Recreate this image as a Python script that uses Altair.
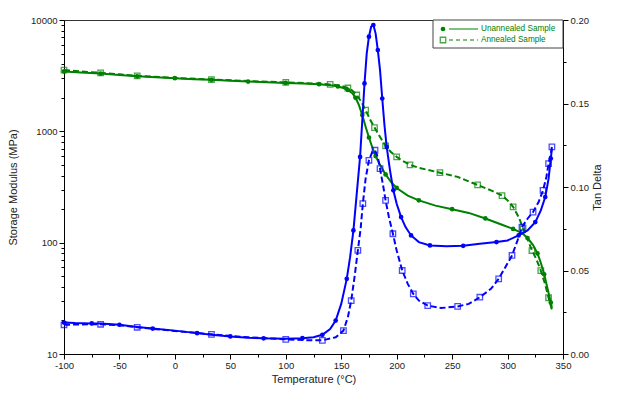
import altair as alt
import pandas as pd

# ---------------- data ----------------
# Storage modulus (MPa), unannealed sample
E_un_T = [-100, -85, -67, -50, -34, -17, 0, 17, 33, 50, 66, 83, 100, 115, 130, 140, 147, 152,
          156, 160, 163, 166, 169, 172, 175, 178, 181, 185, 190, 195, 200, 210, 220, 235, 250,
          265, 280, 295, 305, 313, 318, 323, 327, 330, 333, 336, 339, 340]
E_un = [3450, 3380, 3300, 3200, 3120, 3060, 3000, 2940, 2900, 2850, 2800, 2760, 2720, 2690, 2650,
        2600, 2530, 2450, 2350, 2200, 2000, 1720, 1400, 1100, 880, 720, 600, 500, 410, 350, 310,
        265, 240, 215, 200, 185, 165, 145, 133, 122, 110, 95, 80, 66, 52, 39, 29, 26]

# Storage modulus (MPa), annealed sample
E_an_T = [-100, -85, -67, -50, -34, 0, 33, 66, 100, 130, 140, 150, 156, 160, 164, 168, 172, 176,
          180, 185, 190, 195, 200, 205, 212, 220, 239, 255, 273, 285, 295, 300, 305, 310, 314,
          318, 322, 326, 330, 334, 337, 340]
E_an = [3550, 3450, 3350, 3250, 3150, 3020, 2920, 2830, 2750, 2680, 2640, 2560, 2450, 2320, 2120,
        1850, 1550, 1280, 1080, 890, 740, 650, 590, 545, 500, 470, 425, 390, 330, 295, 265, 240,
        210, 170, 135, 108, 85, 71, 56, 42, 32, 25]

# Tan delta, unannealed sample
D_un_T = [-100, -90, -75, -67, -50, -34, -20, 0, 20, 33, 50, 66, 80, 100, 115, 125, 133, 140,
          145, 150, 155, 158, 161, 164, 167, 169, 171, 173, 175, 177, 179, 181, 183, 185, 187,
          189, 191, 194, 197, 200, 204, 208, 213, 220, 230, 245, 260, 275, 290, 300, 310, 318,
          325, 330, 334, 337, 339, 340]
D_un = [0.0188, 0.0185, 0.0183, 0.0183, 0.0175, 0.0162, 0.0152, 0.0140, 0.0125, 0.0115, 0.0105,
        0.0098, 0.0094, 0.0092, 0.0095, 0.0100, 0.0115, 0.0150, 0.020, 0.030, 0.045, 0.058,
        0.074, 0.096, 0.118, 0.140, 0.162, 0.180, 0.190, 0.196, 0.197, 0.192, 0.182, 0.170,
        0.153, 0.137, 0.124, 0.110, 0.098, 0.090, 0.082, 0.076, 0.071, 0.067, 0.065, 0.0645,
        0.0648, 0.066, 0.067, 0.068, 0.071, 0.074, 0.079, 0.086, 0.094, 0.105, 0.117, 0.123]

# Tan delta, annealed sample
D_an_T = [-100, -75, -67, -50, -34, 0, 33, 66, 100, 120, 133, 145, 152, 156, 159, 162, 165,
          167.5, 169.5, 172, 175, 178, 180.5, 183, 185, 188, 190, 193, 196.6, 200, 205, 210, 215,
          220, 228, 240, 255, 265, 275, 285, 292, 298, 304, 309, 313, 318, 323, 328, 332, 335,
          337, 339, 340]
D_an = [0.0175, 0.0178, 0.0178, 0.0172, 0.0160, 0.0138, 0.0118, 0.0100, 0.0088, 0.0082, 0.0082,
        0.0100, 0.0140, 0.022, 0.032, 0.046, 0.062, 0.075, 0.090, 0.105, 0.116, 0.121, 0.122,
        0.118, 0.111, 0.100, 0.092, 0.082, 0.072, 0.062, 0.050, 0.042, 0.036, 0.032, 0.029,
        0.0275, 0.0285, 0.030, 0.034, 0.039, 0.045, 0.052, 0.059, 0.068, 0.076, 0.081, 0.085,
        0.091, 0.098, 0.106, 0.114, 0.120, 0.124]

LEGEND_LABELS = ["Unannealed Sample", "Annealed Sample"]

X_TICKS = list(range(-100, 351, 25))
E_TICKS = [m * 10 ** p for p in range(1, 4) for m in range(1, 10)] + [10000]
D_TICKS = [0, 0.025, 0.05, 0.075, 0.1, 0.125, 0.15, 0.175, 0.2]

# ---------------- styling ----------------
GREEN = "#008000"
BLUE = "#0000ff"
FONT = "Liberation Sans"
DASH = [6, 3]

df_E_un = pd.DataFrame({"T": E_un_T, "v": E_un})
df_E_an = pd.DataFrame({"T": E_an_T, "v": E_an})
df_D_un = pd.DataFrame({"T": D_un_T, "v": D_un})
df_D_an = pd.DataFrame({"T": D_an_T, "v": D_an})

xscale = alt.Scale(domain=[-100, 350], nice=False, zero=False)
xaxis = alt.Axis(
    values=X_TICKS,
    labelExpr="datum.value % 50 == 0 ? '' + datum.value : ''",
    tickSize={"condition": {"test": "datum.value % 50 == 0", "value": 5}, "value": 3},
    title="Temperature (°C)", grid=False, labelFlush=False, labelOverlap=False,
    labelPadding=1, titlePadding=4,
)
x = alt.X("T:Q", scale=xscale, axis=xaxis)

escale = alt.Scale(type="log", domain=[10, 10000], nice=False)
eaxis = alt.Axis(
    orient="left", values=E_TICKS,
    labelExpr="indexof([10,100,1000,10000], datum.value) >= 0 ? '' + datum.value : ''",
    tickSize={"condition": {"test": "indexof([10,100,1000,10000], datum.value) >= 0", "value": 5},
              "value": 3},
    title="Storage Modulus (MPa)", grid=False, labelOverlap=False, labelFlush=False,
    labelPadding=2, titlePadding=12,
)
dscale = alt.Scale(domain=[0, 0.2], nice=False, zero=False)
daxis = alt.Axis(
    orient="right", values=D_TICKS,
    labelExpr="round(datum.value * 1000) % 50 == 0 ? format(datum.value, '.2f') : ''",
    tickSize={"condition": {"test": "round(datum.value * 1000) % 50 == 0", "value": 5},
              "value": 3},
    title="Tan Delta", titleAngle=270, grid=False, labelOverlap=False, labelFlush=False,
    labelPadding=2, titlePadding=14,
)


def series(df, color, dashed, yenc):
    line_kw = {"color": color, "strokeWidth": 2, "clip": True}
    if dashed:
        line_kw["strokeDash"] = DASH
    line = alt.Chart(df).mark_line(**line_kw).encode(x=x, y=yenc)
    if dashed:
        pm = {"shape": "square", "filled": False, "color": color, "size": 30, "strokeWidth": 1.3}
    else:
        pm = {"shape": "circle", "filled": True, "color": color, "size": 22, "opacity": 1}
    pts = alt.Chart(df).mark_point(**pm).transform_window(
        n="row_number()"
    ).transform_filter("datum.n % 2 == 1").encode(x=x, y=yenc)
    return [line, pts]


ey = alt.Y("v:Q", scale=escale, axis=eaxis)
dy = alt.Y("v:Q", scale=dscale, axis=daxis)

left = alt.layer(*series(df_E_un, GREEN, False, ey), *series(df_E_an, GREEN, True, ey))
right = alt.layer(*series(df_D_un, BLUE, False, dy), *series(df_D_an, BLUE, True, dy))

# legend box (top-right, inside the plot)
leg_df = pd.DataFrame({"label": LEGEND_LABELS})
box = alt.Chart(leg_df.head(1)).mark_rect(fill="white", stroke="#444", strokeWidth=1).encode(
    x=alt.value(369), x2=alt.value(499), y=alt.value(0), y2=alt.value(28)
)
legend_layers = [box]
for i, lab in enumerate(LEGEND_LABELS):
    row = pd.DataFrame({"label": [lab]})
    yy = 9 + i * 11
    rule_kw = {"strokeDash": [4, 3]} if i == 1 else {}
    legend_layers.append(
        alt.Chart(row).mark_rule(color=GREEN, strokeWidth=1, **rule_kw).encode(
            x=alt.value(385), x2=alt.value(414), y=alt.value(yy)
        )
    )
    if i == 0:
        legend_layers.append(
            alt.Chart(row).mark_point(shape="circle", filled=True, color=GREEN, size=22,
                                      opacity=1).encode(x=alt.value(379), y=alt.value(yy))
        )
    else:
        legend_layers.append(
            alt.Chart(row).mark_point(shape="square", filled=False, color=GREEN, size=30,
                                      strokeWidth=1.3).encode(x=alt.value(379), y=alt.value(yy))
        )
    legend_layers.append(
        alt.Chart(row).mark_text(align="left", baseline="middle", color=GREEN, font=FONT,
                                 fontSize=8.2).encode(x=alt.value(417), y=alt.value(yy),
                                                       text="label:N")
    )

chart = alt.layer(left, right, *legend_layers).resolve_scale(y="independent").properties(
    width=499, height=334,
    padding={"left": 56, "top": 12, "right": 57, "bottom": 37},
    autosize=alt.AutoSizeParams(type="none"),
    background="white",
).configure_view(stroke="#333", strokeWidth=1).configure_axis(
    labelFont=FONT, titleFont=FONT, labelFontSize=9.5, titleFontSize=11,
    labelColor="#222", titleColor="#222", titleFontWeight="normal",
    domainColor="#000", tickColor="#000", domainWidth=1, tickWidth=1,
)

chart.save("out.html", embed_options={"renderer": "svg", "actions": False})
